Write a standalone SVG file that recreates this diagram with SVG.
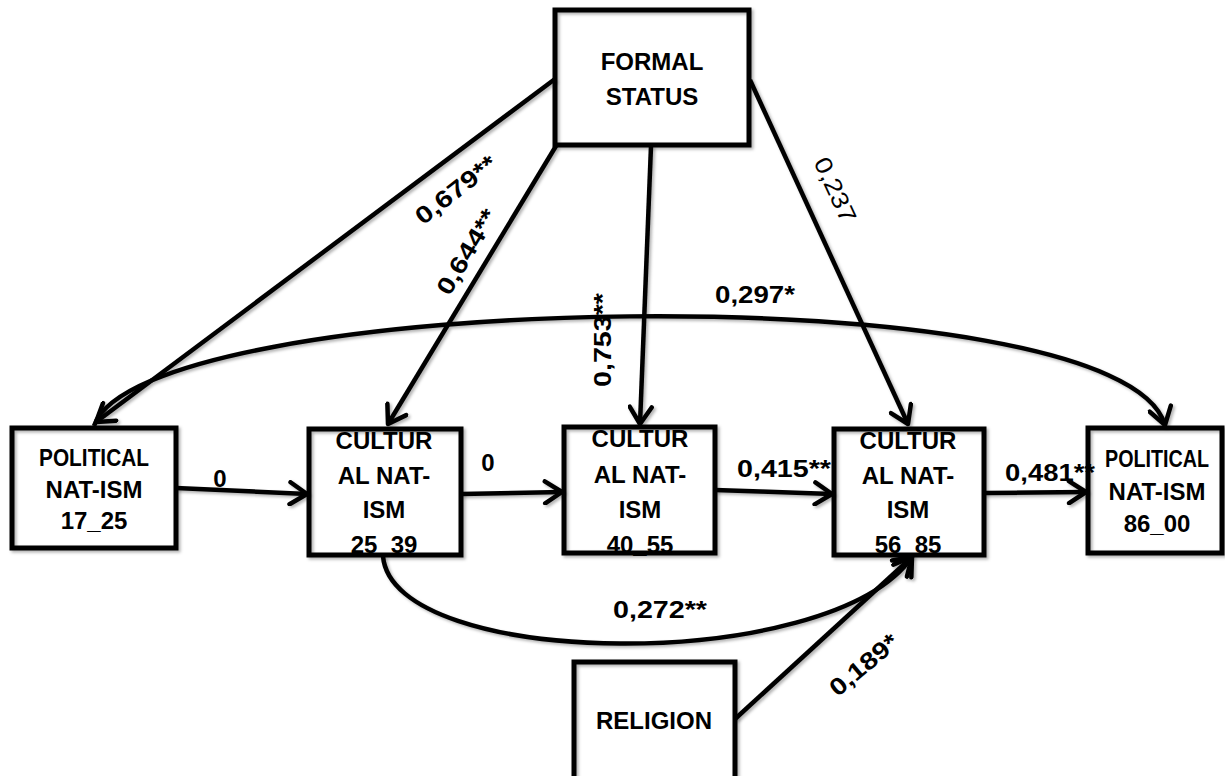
<svg xmlns="http://www.w3.org/2000/svg" width="1225" height="776" viewBox="0 0 1225 776">
<style>
.box{fill:#fff;stroke:none}
.out{fill:none;stroke:#000;stroke-width:5}
.nt{font-family:"Liberation Sans",Arial,sans-serif;font-weight:bold;font-size:24px;fill:#000;text-anchor:middle}
.ln{fill:none;stroke:#000;stroke-width:4.5;marker-end:url(#arr)}
.lb{font-family:"Liberation Sans",Arial,sans-serif;font-weight:bold;font-size:24px;fill:#000;text-anchor:middle}
.lr{font-weight:normal}
</style>
<defs>
<marker id="arr" viewBox="0 0 24 26" refX="21" refY="13" markerWidth="24" markerHeight="26" markerUnits="userSpaceOnUse" orient="auto">
<path d="M4,2 L21,13 L4,24" fill="none" stroke="#000" stroke-width="4.5" stroke-linecap="round" stroke-linejoin="round"/>
</marker>
<filter id="sh" filterUnits="userSpaceOnUse" x="0" y="0" width="1225" height="776">
<feDropShadow dx="2" dy="2" stdDeviation="1.5" flood-color="#000" flood-opacity="0.3"/>
</filter>
</defs>
<rect width="1225" height="776" fill="#fff"/>

<g id="n_formal">
<rect class="box" x="555" y="10" width="194" height="135"/>
<text class="nt" x="652" y="70">FORMAL</text>
<text class="nt" x="652" y="105">STATUS</text>
<rect class="out" x="555" y="10" width="194" height="135" filter="url(#sh)"/>
</g>
<g id="n_pol1725">
<rect class="box" x="12" y="428" width="164" height="120"/>
<text class="nt" x="94" y="466" textLength="110" lengthAdjust="spacingAndGlyphs">POLITICAL</text>
<text class="nt" x="94" y="498">NAT-ISM</text>
<text class="nt" x="94" y="529">17_25</text>
<rect class="out" x="12" y="428" width="164" height="120" filter="url(#sh)"/>
</g>
<g id="n_cul2539">
<rect class="box" x="309" y="429" width="152" height="126"/>
<text class="nt" x="384" y="449">CULTUR</text>
<text class="nt" x="384" y="484">AL NAT-</text>
<text class="nt" x="384" y="518">ISM</text>
<text class="nt" x="384" y="553">25_39</text>
<rect class="out" x="309" y="429" width="152" height="126" filter="url(#sh)"/>
</g>
<g id="n_cul4055">
<rect class="box" x="564" y="427" width="151" height="126"/>
<text class="nt" x="640" y="447">CULTUR</text>
<text class="nt" x="640" y="483">AL NAT-</text>
<text class="nt" x="640" y="518">ISM</text>
<text class="nt" x="640" y="553">40_55</text>
<rect class="out" x="564" y="427" width="151" height="126" filter="url(#sh)"/>
</g>
<g id="n_cul5685">
<rect class="box" x="834" y="429" width="150" height="126"/>
<text class="nt" x="908" y="449">CULTUR</text>
<text class="nt" x="908" y="484">AL NAT-</text>
<text class="nt" x="908" y="518">ISM</text>
<text class="nt" x="908" y="553">56_85</text>
<rect class="out" x="834" y="429" width="150" height="126" filter="url(#sh)"/>
</g>
<g id="n_pol8600">
<rect class="box" x="1088" y="428" width="134" height="125"/>
<text class="nt" x="1157" y="467" textLength="104" lengthAdjust="spacingAndGlyphs">POLITICAL</text>
<text class="nt" x="1157" y="500">NAT-ISM</text>
<text class="nt" x="1157" y="532">86_00</text>
<rect class="out" x="1088" y="428" width="134" height="125" filter="url(#sh)"/>
</g>
<g id="n_religion">
<rect class="box" x="574" y="662" width="161" height="130"/>
<text class="nt" x="654" y="729">RELIGION</text>
<rect class="out" x="574" y="662" width="161" height="130" filter="url(#sh)"/>
</g>

<g id="connectors">
<g filter="url(#sh)">
<path class="ln" d="M555,79 L96,422"/>
<path class="ln" d="M556,146 L388,424"/>
<path class="ln" d="M651,146 L640,424"/>
<path class="ln" d="M750,80 L908,424"/>
<path class="ln" d="M176,488 L307,494"/>
<path class="ln" d="M461,494 L562,492"/>
<path class="ln" d="M715,490 L832,494"/>
<path class="ln" d="M984,493 L1086,492"/>
<path class="ln" d="M94,426 C140,290 1120,270 1165,425"/>
<path class="ln" d="M383,556 C392,670 830,675 912,557"/>
<path class="ln" d="M735,719 L912,557"/>
</g>
<text class="lb" x="220" y="487">0</text>
<text class="lb" x="488" y="471">0</text>
<text class="lb" x="784" y="477" textLength="94" lengthAdjust="spacingAndGlyphs">0,415**</text>
<text class="lb" x="1050" y="481" textLength="90" lengthAdjust="spacingAndGlyphs">0,481**</text>
<text class="lb" x="755" y="303" textLength="80" lengthAdjust="spacingAndGlyphs">0,297*</text>
<text class="lb" x="660" y="618" textLength="94" lengthAdjust="spacingAndGlyphs">0,272**</text>
<text class="lb" transform="translate(456,190) rotate(-38)" x="0" y="8" textLength="96" lengthAdjust="spacingAndGlyphs">0,679**</text>
<text class="lb" transform="translate(467,252) rotate(-59)" x="0" y="8" textLength="95" lengthAdjust="spacingAndGlyphs">0,644**</text>
<text class="lb" transform="translate(603,340) rotate(-90)" x="0" y="8" textLength="94" lengthAdjust="spacingAndGlyphs">0,753**</text>
<text class="lb lr" transform="translate(835,190) rotate(65)" x="0" y="8" textLength="69" lengthAdjust="spacingAndGlyphs">0,237</text>
<text class="lb" transform="translate(864,665) rotate(-40)" x="0" y="8" textLength="82" lengthAdjust="spacingAndGlyphs">0,189*</text>
</g>
</svg>
